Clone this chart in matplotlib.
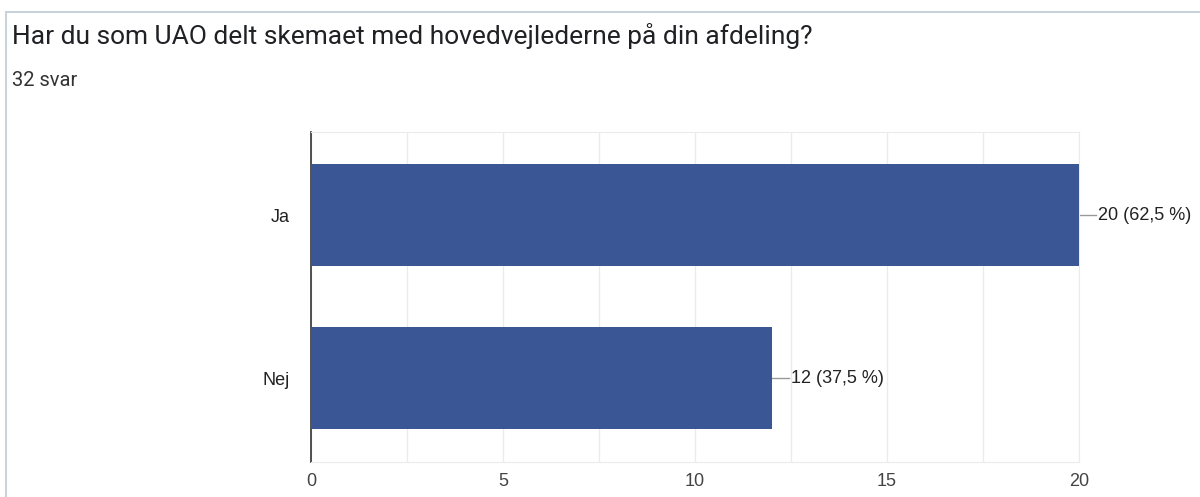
import matplotlib
matplotlib.use('Agg')
import matplotlib.pyplot as plt
from matplotlib.patches import Rectangle

# data
categories = ['Nej', 'Ja']
counts = [12, 20]
labels = ['12 (37,5 %)', '20 (62,5 %)']
title = 'Har du som UAO delt skemaet med hovedvejlederne på din afdeling?'
subtitle = '32 svar'

bar_color = '#3b5694'
tick_color = '#444444'

fig = plt.figure(figsize=(12, 4.97), dpi=100)

# card border
card = Rectangle((6/1200, -0.1), 1.2, 1 - 12/497 + 0.1, transform=fig.transFigure,
                 fill=False, edgecolor='#c8d3da', linewidth=1.5)
fig.add_artist(card)

fig.text(12/1200, 1 - 36/497, title, fontsize=19, family='Roboto',
         color='#202124', va='center', ha='left')
fig.text(12/1200, 1 - 80/497, subtitle, fontsize=14.5, family='Roboto',
         color='#333333', va='center', ha='left')

ax = fig.add_axes([311/1200, 1 - 462/497, 768/1200, 330/497])
ypos = list(range(len(categories)))
ax.barh(ypos, counts, height=0.626, color=bar_color, zorder=3)

for y, c, lab in zip(ypos, counts, labels):
    ax.plot([c, c + 0.45], [y, y], color='#999999', linewidth=1, zorder=2, clip_on=False)
    ax.text(c + 0.5, y, lab, va='center', ha='left', fontsize=13,
            family='Liberation Sans', color='#222222')

ax.set_xlim(0, 20)
ax.set_ylim(-0.515, 1.51)
ax.set_yticks(ypos)
ax.set_yticklabels(categories, family='Liberation Sans', fontsize=13, color='#222222')
ax.set_xticks([0, 5, 10, 15, 20])
ax.set_xticklabels(['0', '5', '10', '15', '20'], family='Liberation Sans',
                   fontsize=13, color=tick_color)
ax.set_xticks([2.5, 7.5, 12.5, 17.5], minor=True)
ax.grid(axis='x', which='both', color='#ebebeb', linewidth=1, zorder=0)
ax.tick_params(axis='both', which='both', length=0)
ax.tick_params(axis='x', pad=8)
ax.tick_params(axis='y', pad=15)

for s in ['top', 'bottom', 'right']:
    ax.spines[s].set_color('#ebebeb')
ax.spines['left'].set_color('#333333')
ax.spines['left'].set_linewidth(1.2)

fig.savefig('out.png', dpi=100)
